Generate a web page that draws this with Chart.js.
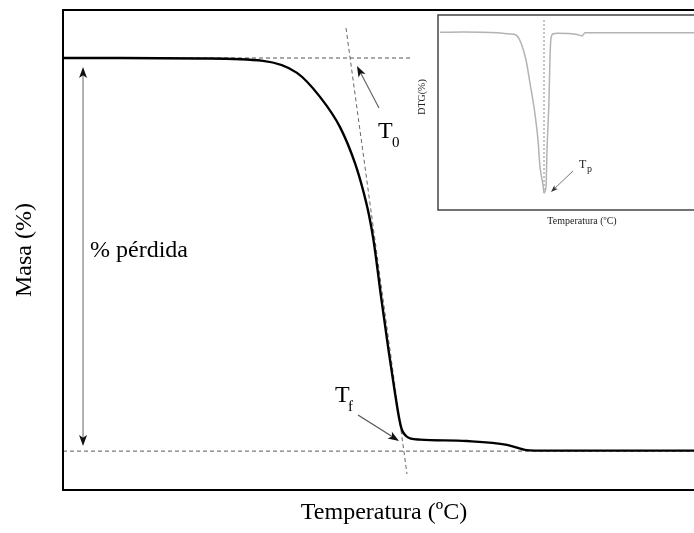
<!DOCTYPE html>
<html><head><meta charset="utf-8">
<script src="https://cdn.jsdelivr.net/npm/chart.js@4.4.0/dist/chart.umd.min.js"></script>
<style>
html,body{margin:0;padding:0;background:#fff;overflow:hidden;width:694px;height:533px;position:relative;}
#main{position:absolute;left:0;top:0;}
#inset{position:absolute;left:405px;top:5px;}
</style></head><body>
<canvas id="main" width="710" height="533"></canvas>
<canvas id="inset" width="330" height="228"></canvas>
<script>
// ---- main TGA curve (x: relative temperature units 0-100, y: mass %) ----
const massTemp   = [0, 8.88, 21.34, 31.15, 36.45, 40.03, 43.15, 45.48, 46.73, 47.66, 48.36, 49.61, 50.70, 51.64, 52.41, 52.80, 53.43, 54.21, 55.61, 62.93, 69.16, 72.27, 74.30, 100];
const massValues = [90.0, 90.0, 89.9, 89.4, 86.9, 81.9, 75.6, 68.1, 62.5, 57.3, 52.1, 39.6, 29.2, 20.8, 14.6, 12.5, 11.25, 10.7, 10.5, 10.2, 9.4, 8.3, 8.2, 8.2];

// reference lines
const onsetLineX = [0, 54.05];     const onsetLineY = [90.0, 90.0];
const finalLineX = [0, 100];       const finalLineY = [8.1, 8.1];
const tangentX   = [44.08, 53.58]; const tangentY = [96.25, 3.33];

// annotations
const lossArrowX = 3.12; const lossArrowY = [88.1, 9.17];
const t0Arrow = {from:[49.22, 79.58], to:[45.79, 88.33]};
const tfArrow = {from:[45.95, 15.63], to:[52.34, 10.21]};
const lossLabel = {text:'% pérdida', x:4.21, y:48.54};
const t0Label = {main:'T', sub:'0', x:49.07, y:73.33, subX:51.25, subY:71.46};
const tfLabel = {main:'T', sub:'f', x:42.37, y:18.33, subX:44.39, subY:16.46};

// ---- inset DTG curve ----
const dtgTemp   = [0.69, 8.68, 20.49, 25.0, 27.08, 28.82, 30.56, 31.94, 33.33, 34.72, 35.42, 36.46, 36.81, 37.50, 37.85, 38.54, 38.89, 39.24, 39.93, 41.67, 48.26, 50.0, 51.04, 100];
const dtgValues = [0.02, 0.04, 0.0, -0.07, -0.13, -0.58, -1.54, -2.84, -4.19, -6.05, -7.57, -8.59, -9.04, -8.70, -6.62, -3.80, -1.37, -0.30, -0.07, -0.03, -0.10, -0.18, 0.0, 0.0];
const peakLineX = [36.81, 36.81]; const peakLineY = [0.72, -9.04];
const tpArrow = {from:[46.88, -7.80], to:[39.24, -8.98]};
const tpLabel = {main:'T', sub:'p', x:48.96, y:-7.63, subX:51.74, subY:-7.86};

const SERIF = 'Liberation Serif, Times New Roman, serif';
const pts = (xs, ys) => xs.map((x,i)=>({x, y: ys[i]}));

function arrowHead(ctx, x1, y1, x2, y2, len, half, color){
  const a = Math.atan2(y2-y1, x2-x1);
  ctx.save();
  ctx.fillStyle = color;
  ctx.beginPath();
  ctx.moveTo(x2, y2);
  ctx.lineTo(x2 - len*Math.cos(a) + half*Math.sin(a), y2 - len*Math.sin(a) - half*Math.cos(a));
  ctx.lineTo(x2 - len*0.75*Math.cos(a), y2 - len*0.75*Math.sin(a));
  ctx.lineTo(x2 - len*Math.cos(a) - half*Math.sin(a), y2 - len*Math.sin(a) + half*Math.cos(a));
  ctx.closePath();
  ctx.fill();
  ctx.restore();
}
function arrow(ctx, x1, y1, x2, y2, lineColor, headColor, len, half, w){
  const a = Math.atan2(y2-y1, x2-x1);
  ctx.save();
  ctx.strokeStyle = lineColor; ctx.lineWidth = w;
  ctx.beginPath(); ctx.moveTo(x1, y1);
  ctx.lineTo(x2 - len*0.7*Math.cos(a), y2 - len*0.7*Math.sin(a)); ctx.stroke();
  ctx.restore();
  arrowHead(ctx, x1, y1, x2, y2, len, half, headColor);
}
function subLabel(ctx, xs, ys, lab, big, small, color){
  ctx.save();
  ctx.fillStyle = color; ctx.textAlign = 'left'; ctx.textBaseline = 'alphabetic';
  ctx.font = big + 'px ' + SERIF;
  ctx.fillText(lab.main, xs.getPixelForValue(lab.x), ys.getPixelForValue(lab.y));
  ctx.font = small + 'px ' + SERIF;
  ctx.fillText(lab.sub, xs.getPixelForValue(lab.subX), ys.getPixelForValue(lab.subY));
  ctx.restore();
}

const mainDecor = {
  id:'mainDecor',
  afterDraw(chart){
    const {ctx, chartArea:ca, scales:{x, y}} = chart;
    ctx.save();
    ctx.strokeStyle = '#000'; ctx.lineWidth = 2;
    ctx.strokeRect(ca.left, ca.top, ca.right-ca.left, ca.bottom-ca.top);
    // double arrow (mass loss)
    const ax = x.getPixelForValue(lossArrowX);
    const yTop = y.getPixelForValue(lossArrowY[0]), yBot = y.getPixelForValue(lossArrowY[1]);
    ctx.strokeStyle = '#8a8a8a'; ctx.lineWidth = 1.3;
    ctx.beginPath(); ctx.moveTo(ax, yTop+8); ctx.lineTo(ax, yBot-8); ctx.stroke();
    arrowHead(ctx, ax, yBot, ax, yTop, 11, 4, '#111');
    arrowHead(ctx, ax, yTop, ax, yBot, 11, 4, '#111');
    // T0 and Tf arrows
    arrow(ctx, x.getPixelForValue(t0Arrow.from[0]), y.getPixelForValue(t0Arrow.from[1]),
               x.getPixelForValue(t0Arrow.to[0]), y.getPixelForValue(t0Arrow.to[1]), '#666', '#111', 11, 4, 1.2);
    arrow(ctx, x.getPixelForValue(tfArrow.from[0]), y.getPixelForValue(tfArrow.from[1]),
               x.getPixelForValue(tfArrow.to[0]), y.getPixelForValue(tfArrow.to[1]), '#555', '#111', 11, 4, 1.2);
    // texts
    ctx.fillStyle = '#000'; ctx.font = '24px ' + SERIF; ctx.textAlign='left'; ctx.textBaseline='alphabetic';
    ctx.fillText(lossLabel.text, x.getPixelForValue(lossLabel.x), y.getPixelForValue(lossLabel.y));
    subLabel(ctx, x, y, t0Label, 24, 15, '#000');
    subLabel(ctx, x, y, tfLabel, 24, 15, '#000');
    ctx.restore();
  }
};

const insetDecor = {
  id:'insetDecor',
  beforeDatasetsDraw(chart){
    const {ctx, chartArea:ca} = chart;
    ctx.save(); ctx.fillStyle = '#fff';
    ctx.fillRect(ca.left, ca.top, ca.right-ca.left, ca.bottom-ca.top);
    ctx.restore();
  },
  afterDraw(chart){
    const {ctx, chartArea:ca, scales:{x, y}} = chart;
    ctx.save();
    ctx.strokeStyle = '#444'; ctx.lineWidth = 1.5;
    ctx.strokeRect(ca.left, ca.top, ca.right-ca.left, ca.bottom-ca.top);
    arrow(ctx, x.getPixelForValue(tpArrow.from[0]), y.getPixelForValue(tpArrow.from[1]),
               x.getPixelForValue(tpArrow.to[0]), y.getPixelForValue(tpArrow.to[1]), '#777', '#333', 7, 2.5, 1);
    subLabel(ctx, x, y, tpLabel, 12, 10, '#222');
    // y axis title
    ctx.fillStyle = '#222'; ctx.font = '10px ' + SERIF;
    ctx.translate(17, 92); ctx.rotate(-Math.PI/2);
    ctx.textAlign = 'center'; ctx.textBaseline = 'middle';
    ctx.fillText('DTG(%)', 0, 0);
    ctx.restore();
  }
};

const hidden = {ticks:{display:false}, grid:{display:false, drawTicks:false}, border:{display:false}};

new Chart(document.getElementById('main'), {
  type:'line',
  data:{datasets:[
    {data:pts(massTemp, massValues), borderColor:'#000', borderWidth:2.4, pointRadius:0, cubicInterpolationMode:'monotone'},
    {data:pts(onsetLineX, onsetLineY), borderColor:'#555', borderWidth:1, borderDash:[4,3], pointRadius:0},
    {data:pts(finalLineX, finalLineY), borderColor:'#555', borderWidth:1, borderDash:[4,3], pointRadius:0},
    {data:pts(tangentX, tangentY), borderColor:'#666', borderWidth:1, borderDash:[4,3], pointRadius:0}
  ]},
  options:{
    responsive:false, animation:false,
    layout:{padding:{left:0, top:10, right:5, bottom:0}},
    plugins:{legend:{display:false}, tooltip:{enabled:false}},
    scales:{
      x:{type:'linear', min:0, max:100, ...hidden,
         title:{display:true, text:'Temperatura (ºC)', color:'#000', font:{family:SERIF, size:24}, padding:{top:0, bottom:5.5}},
         afterFit(s){ s.height = 43; }},
      y:{type:'linear', min:0, max:100, ...hidden,
         title:{display:true, text:'Masa (%)', color:'#000', font:{family:SERIF, size:24}, padding:{top:10.5, bottom:0}},
         afterFit(s){ s.width = 63; }}
    }
  },
  plugins:[mainDecor]
});

new Chart(document.getElementById('inset'), {
  type:'line',
  data:{datasets:[
    {data:pts(dtgTemp, dtgValues), borderColor:'#b3b3b3', borderWidth:1.5, pointRadius:0, cubicInterpolationMode:'monotone'},
    {data:pts(peakLineX, peakLineY), borderColor:'#888', borderWidth:1, borderDash:[2,2], pointRadius:0}
  ]},
  options:{
    responsive:false, animation:false,
    layout:{padding:{left:0, top:10, right:9, bottom:0}},
    plugins:{legend:{display:false}, tooltip:{enabled:false}},
    scales:{
      x:{type:'linear', min:0, max:100, ...hidden,
         title:{display:true, text:'Temperatura (ºC)', color:'#222', font:{family:SERIF, size:10}, padding:{top:0, bottom:6}},
         afterFit(s){ s.height = 23; }},
      y:{type:'linear', min:-10, max:1, ...hidden,
         title:{display:false},
         afterFit(s){ s.width = 33; }}
    }
  },
  plugins:[insetDecor]
});
</script>
</body></html>
